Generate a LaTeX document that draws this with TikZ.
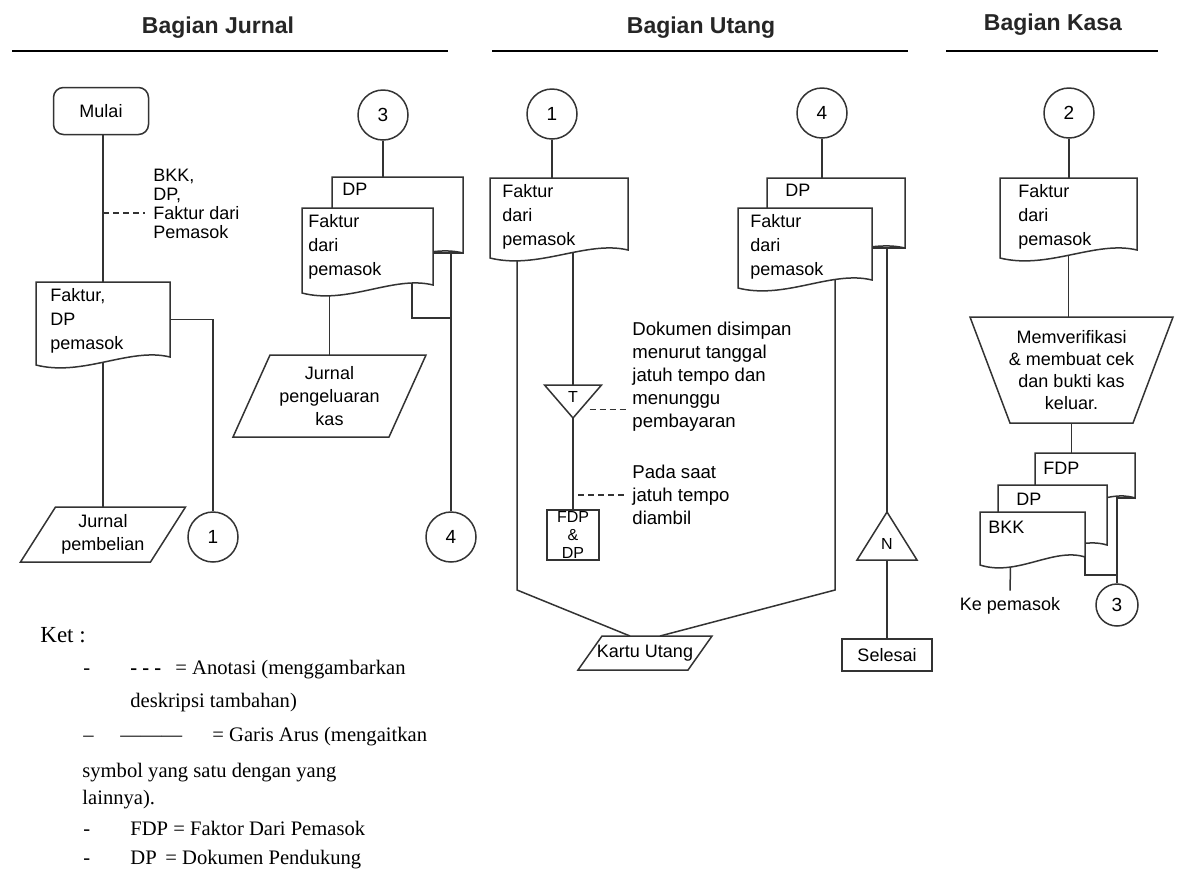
\documentclass[tikz,border=0pt]{standalone}
\usepackage{fontspec}
\setmainfont{Liberation Serif}
\newfontfamily\sansf{Liberation Sans}
\usetikzlibrary{calc}
\newcommand\docout[2]{%
  \draw[shp, fill=white] ($(#1.south west)+(0,8)$) -- (#1.north west) -- (#1.north east) -- (#1.south east)
   .. controls +(-0.3*#2,-10) and +(0.35*#2,12) .. ($(#1.south west)+(0,8)$) -- cycle;}
\newcommand\paraout[2]{%
  \draw[shp] ($(#1.north west)+(#2,0)$) -- ($(#1.north east)+(#2,0)$) -- ($(#1.south east)+(-#2,0)$) -- ($(#1.south west)+(-#2,0)$) -- cycle;}
\newcommand\trido[1]{\draw[shp] (#1.north west) -- (#1.north east) -- (#1.south) -- cycle;}
\newcommand\triup[1]{\draw[shp] (#1.south west) -- (#1.south east) -- (#1.north) -- cycle;}
\begin{document}
\begin{tikzpicture}[x=0.5pt,y=-0.5pt,
 shp/.style={draw=black!80, line width=0.75pt},
 ln/.style={draw=black!80, line width=0.75pt},
 ann/.style={draw=black!80, line width=0.75pt, dash pattern=on 3pt off 2pt},
 hd/.style={font=\sansf\bfseries\fontsize{11.5}{13}\selectfont, inner sep=0pt, text=black!85},
 hline/.style={line width=0.9pt},
 frame/.style={inner sep=0pt, outer sep=0pt, draw=none},
 txt/.style={font=\sansf\fontsize{9}{12}\selectfont, align=left, inner sep=0pt},
 small/.style={font=\sansf\fontsize{9}{9.5}\selectfont, align=left, inner sep=0pt},
 ctxt/.style={font=\sansf\fontsize{9}{11.5}\selectfont, align=center},
 conn/.style={circle, shp, minimum size=25pt, inner sep=0pt, font=\sansf\fontsize{9.5}{11}\selectfont},
 leg/.style={font=\fontsize{10.3}{12}\selectfont, anchor=base west, inner sep=0pt},
]
\useasboundingbox (0,0) rectangle (1182,890);
\fill[white] (0,0) rectangle (1182,890);

% headers
\node[hd] (hj) at (218,28) {Bagian Jurnal};
\node[hd] (hu) at (701,28) {Bagian Utang};
\node[hd] (hk) at (1053,25) {Bagian Kasa};
\draw[hline] (12,51) -- (448,51);
\draw[hline] (492,51) -- (908,51);
\draw[hline] (946,51) -- (1158,51);

% ---------------- Bagian Jurnal
\node[shp, rounded corners=5pt, minimum width=47.5pt, minimum height=23.5pt, ctxt, inner sep=0pt] (mulai) at (101,111) {Mulai};
\node[frame, minimum width=67pt, minimum height=37.5pt] (jd1) at (103,319.5) {};
\docout{jd1}{134}
\node[txt, anchor=north west] (jd1t) at ($(jd1.north west)+(14,6)$) {Faktur,\\DP\\pemasok};
\node[small, anchor=west] (jann) at (153,204) {BKK,\\DP,\\Faktur dari\\Pemasok};
\coordinate (ja) at (103,213);
\draw[ann] (ja) -- ($(ja -| jann.west)+(-8,0)$);
\draw[ln] (mulai.south -| jd1.north) -- (jd1.north);
\node[frame, ctxt, minimum width=65pt, minimum height=27.5pt, inner sep=0pt] (jp1) at (103,534.5) {Jurnal\\pembelian};
\paraout{jp1}{17.5}
\draw[ln] ($(jd1.south)+(0,5)$) -- (jp1.north);
\node[conn] (jc1) at (213,537) {1};
\draw[ln] (jd1.east) -| (jc1.north);

\node[conn] (jc3) at (383,115) {3};
\node[frame, minimum width=65.5pt, minimum height=38pt] (jdp3) at (397.5,215) {};
\docout{jdp3}{131}
\node[txt, anchor=north west] (jdp3t) at ($(jdp3.north west)+(10,6)$) {DP};
\node[frame, minimum width=65.5pt, minimum height=38.5pt] (jd3) at (367.5,246.5) {};
\docout{jd3}{131}
\node[txt, anchor=north west] (jd3t) at ($(jd3.north west)+(6,6)$) {Faktur\\dari\\pemasok};
\draw[ln] (jc3.south) -- (jc3.south |- jdp3.north);
\node[frame, ctxt, minimum width=78pt, minimum height=41pt, inner sep=0pt] (jp3) at (329.5,396) {Jurnal\\pengeluaran\\kas};
\paraout{jp3}{18.5}
\draw[ln] ($(jd3.south -| jp3.north)+(0,10)$) -- (jp3.north);
\node[conn] (jc4) at (451,537) {4};
\draw[ln] (jd3.east |- jdp3.south east) -- (jdp3.south east);
\draw[ln] (jc4.north |- jdp3.south east) -- (jc4.north);
\coordinate (j3m) at (451,318);
\draw[ln] ($(jd3.south east)+(-21,-2)$) |- (j3m);

% ---------------- Bagian Utang
\node[conn] (uc1) at (552,114) {1};
\node[frame, minimum width=69pt, minimum height=36pt] (ud1) at (559,214) {};
\docout{ud1}{138}
\node[txt, anchor=north west] (ud1t) at ($(ud1.north west)+(12,6)$) {Faktur\\dari\\pemasok};
\draw[ln] (uc1.south) -- (uc1.south |- ud1.north);
\node[frame, minimum width=28.5pt, minimum height=16.5pt] (utri) at (573,401.5) {};
\trido{utri}
\node[font=\sansf\fontsize{8}{9}\selectfont, inner sep=0pt] (utrit) at ($(utri.center)+(0,-5)$) {T};
\draw[ln] ($(ud1.south -| utri.north)+(0,2)$) -- (utri.north);
\node[frame, shp, minimum width=26pt, minimum height=25pt, font=\sansf\fontsize{8}{9}\selectfont, align=center] (ubox) at (573,535) {FDP\\\&\\DP};
\draw[ln] (utri.south) -- (ubox.north);
\node[txt, font=\sansf\fontsize{9.3}{11.5}\selectfont, anchor=north west] (uann1) at (632,322) {Dokumen disimpan\\menurut tanggal\\jatuh tempo dan\\menunggu\\pembayaran};
\draw[ann] ($(utri.east)+(-12,8)$) -- ($(utri.east -| uann1.west)+(-6,8)$);
\node[txt, font=\sansf\fontsize{9.3}{11.5}\selectfont, anchor=north west] (uann2) at (632,465) {Pada saat\\jatuh tempo\\diambil};
\coordinate (ua2) at (578,495);
\draw[ann] (ua2) -- ($(ua2 -| uann2.west)+(-6,0)$);

\node[frame, ctxt, minimum width=55pt, minimum height=17pt, inner sep=0pt] (upara) at (645,653) {Kartu Utang};
\paraout{upara}{12}
\coordinate (ulb) at (517,590);
\coordinate (urb) at (835,590);
\draw[ln] ($(ud1.south)+(-42,11)$) -- (ulb) -- ($(upara.north)+(-15,0)$);

\node[conn] (uc4) at (822,113) {4};
\node[frame, minimum width=69pt, minimum height=35pt] (udp4) at (836,213) {};
\docout{udp4}{138}
\node[txt, anchor=north west] (udp4t) at ($(udp4.north west)+(18,6)$) {DP};
\node[frame, minimum width=67pt, minimum height=36pt] (ud4) at (805,244) {};
\docout{ud4}{134}
\node[txt, anchor=north west] (ud4t) at ($(ud4.north west)+(12,6)$) {Faktur\\dari\\pemasok};
\draw[ln] (uc4.south) -- (uc4.south |- udp4.north);
\draw[ln] (ud4.east |- udp4.south east) -- (udp4.south east);
\node[frame, minimum width=30pt, minimum height=24pt] (utri2) at (887,536) {};
\triup{utri2}
\node[font=\sansf\fontsize{8}{9}\selectfont, inner sep=0pt] (utri2t) at ($(utri2.center)+(0,8)$) {N};
\draw[ln] (utri2.north |- udp4.south east) -- (utri2.north);
\draw[ln] ($(ud4.south)+(30,0)$) -- (urb) -- ($(upara.north)+(15,0)$);
\node[frame, shp, ctxt, minimum width=45pt, minimum height=16pt] (urect) at (887,655) {Selesai};
\draw[ln] (utri2.south) -- (urect.north);

% ---------------- Bagian Kasa
\node[conn] (kc2) at (1069,113) {2};
\node[frame, minimum width=68.5pt, minimum height=36pt] (kd) at (1068.5,214) {};
\docout{kd}{137}
\node[txt, anchor=north west] (kdt) at ($(kd.north west)+(18,6)$) {Faktur\\dari\\pemasok};
\draw[ln] (kc2.south) -- (kc2.south |- kd.north);
\node[frame, minimum width=101.5pt, minimum height=53pt, font=\sansf\fontsize{9}{11}\selectfont, align=center] (ktrap) at (1071.5,370) {Memverifikasi\\\& membuat cek\\dan bukti kas\\keluar.};
\draw[shp] (ktrap.north west) -- (ktrap.north east) -- ($(ktrap.south east)+(-40,0)$) -- ($(ktrap.south west)+(40,0)$) -- cycle;
\draw[ln] ($(kd.south)+(0,5)$) -- (kd.south |- ktrap.north);
\node[frame, minimum width=50pt, minimum height=22.5pt] (kdp) at (1085,475.5) {};
\docout{kdp}{100}
\node[txt, anchor=north west] (kdpt) at ($(kdp.north west)+(8,9)$) {FDP};
\node[frame, minimum width=54.5pt, minimum height=30pt] (kbk) at (1052.5,515) {};
\docout{kbk}{109}
\node[txt, anchor=north west] (kbkt) at ($(kbk.north west)+(18,8)$) {DP};
\node[frame, minimum width=52.5pt, minimum height=22.5pt] (kfr) at (1032.5,534.5) {};
\docout{kfr}{105}
\node[txt, anchor=north west] (kfrt) at ($(kfr.north west)+(8,9)$) {BKK};
\draw[ln] (ktrap.south) -- (ktrap.south |- kdp.north);
\node[conn, minimum size=21pt] (kc3) at (1117,605) {3};
\draw[ln] (kdp.south east) -- (kc3.north |- kdp.south east) -- (kc3.north);
\draw[ln] ($(kfr.south east)+(0,-1)$) |- ($(kfr.south east -| kc3.north)+(0,18)$);
\node[ctxt] (kpem) at (1010,606) {Ke pemasok};
\draw[ln] ($(kfr.south)+(-22,10)$) -- (kpem.north);

% ---------------- Keterangan
\node[leg, font=\fontsize{11.5}{13}\selectfont] (k0) at (40,642) {Ket :};
\node[leg] (k1a) at (83,674) {-};
\node[leg, font=\bfseries\fontsize{10.3}{12}\selectfont] (k1b) at (130,674) {- - -};
\node[leg] (k1c) at (175,674) {= Anotasi (menggambarkan};
\node[leg] (k2) at (130,707) {deskripsi tambahan)};
\node[leg] (k3a) at (83,741) {–};
\node[leg] (k3b) at (120,741) {———};
\node[leg] (k3c) at (212,741) {= Garis Arus (mengaitkan};
\node[leg] (k4) at (82,777) {symbol yang satu dengan yang};
\node[leg] (k5) at (82,804) {lainnya).};
\node[leg] (k6a) at (83,835) {-};
\node[leg] (k6b) at (130,835) {FDP = Faktor Dari Pemasok};
\node[leg] (k7a) at (83,864) {-};
\node[leg] (k7b) at (130,864) {DP};
\node[leg] (k7c) at (165,864) {= Dokumen Pendukung};
\end{tikzpicture}
\end{document}
